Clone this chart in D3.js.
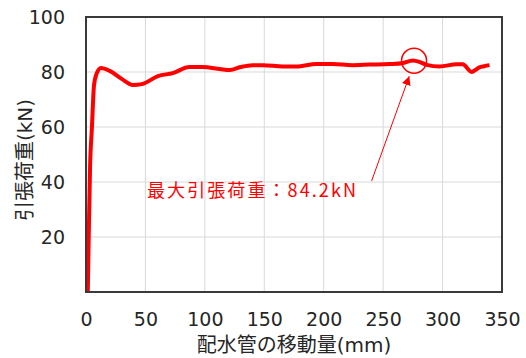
<!DOCTYPE html>
<html>
<head>
<meta charset="utf-8">
<script src="https://cdn.jsdelivr.net/npm/d3@7"></script>
<style>
  body { margin: 0; background: #fff; }
  svg { display: block; }
  text { font-family: "DejaVu Sans", "Noto Sans CJK JP", sans-serif; }
</style>
</head>
<body>
<div id="chart"></div>
<script>
// displacement of pipe (mm) and tensile load (kN)
var disp = [1.5, 2.5, 3.4, 5, 6.7, 9, 12.6, 20, 30, 39.5, 47, 60.5, 73, 87, 98, 112.6, 121, 130, 140, 149, 165.5, 177, 194, 207.5, 224, 238.6, 255.5, 266, 275, 281, 286.5, 297.5, 311.8, 317, 324.4, 328.6, 331, 335, 339.5];
var load = [0, 25, 45, 60, 75, 79.5, 81.5, 80.4, 77.5, 75.3, 75.6, 78.5, 79.6, 81.8, 81.8, 81.1, 80.7, 81.8, 82.5, 82.5, 82, 82, 82.9, 82.9, 82.5, 82.7, 82.9, 83.2, 84.2, 83.6, 82.6, 82, 82.8, 82.8, 80, 81, 81.7, 82.1, 82.5];

var xTicks = [0, 50, 100, 150, 200, 250, 300, 350];
var yTicks = [20, 40, 60, 80, 100];
var yGrid = [20, 40, 60, 80];

var maxLabel = "最大引張荷重：84.2kN";
var maxPoint = [276, 84.1];

var margin = { top: 17, right: 24, bottom: 66, left: 86 },
    width = 526 - margin.left - margin.right,
    height = 358 - margin.top - margin.bottom;

var x = d3.scaleLinear().domain([0, 350]).range([0, width]);
var y = d3.scaleLinear().domain([0, 100]).range([height, 0]);

var svg = d3.select("#chart").append("svg")
  .attr("width", 526)
  .attr("height", 358);

var g = svg.append("g")
  .attr("transform", "translate(" + margin.left + "," + margin.top + ")");

// grid
g.selectAll(".vgrid").data(xTicks.slice(1, -1)).enter().append("line")
  .attr("x1", function (d) { return x(d); })
  .attr("x2", function (d) { return x(d); })
  .attr("y1", 0).attr("y2", height)
  .attr("stroke", "#d9d9d9").attr("stroke-width", 1);

g.selectAll(".hgrid").data(yGrid).enter().append("line")
  .attr("x1", 0).attr("x2", width)
  .attr("y1", function (d) { return y(d); })
  .attr("y2", function (d) { return y(d); })
  .attr("stroke", "#d9d9d9").attr("stroke-width", 1);

// axes (labels only, frame drawn separately)
var xAxis = d3.axisBottom(x).tickValues(xTicks).tickSize(0).tickPadding(21);
var yAxis = d3.axisLeft(y).tickValues(yTicks).tickSize(0).tickPadding(21);

g.append("g").attr("class", "x-axis")
  .attr("transform", "translate(0," + height + ")")
  .call(xAxis)
  .call(function (s) { s.select(".domain").remove(); })
  .selectAll("text").attr("font-size", 19).attr("fill", "#262626")
  .attr("font-family", "DejaVu Sans");

g.append("g").attr("class", "y-axis")
  .call(yAxis)
  .call(function (s) { s.select(".domain").remove(); })
  .selectAll("text").attr("font-size", 19).attr("fill", "#262626")
  .attr("font-family", "DejaVu Sans");

// data line
var line = d3.line()
  .x(function (d, i) { return x(disp[i]); })
  .y(function (d) { return y(d); })
  .curve(d3.curveMonotoneX);

g.append("path")
  .datum(load)
  .attr("fill", "none")
  .attr("stroke", "#ff0000")
  .attr("stroke-width", 4)
  .attr("stroke-linejoin", "round")
  .attr("d", line);

// frame
g.append("rect")
  .attr("x", 0).attr("y", 0)
  .attr("width", width).attr("height", height)
  .attr("fill", "none")
  .attr("stroke", "#3a3a3a")
  .attr("stroke-width", 2);

// annotation
g.append("circle")
  .attr("cx", x(maxPoint[0])).attr("cy", y(maxPoint[1]))
  .attr("r", 12.5)
  .attr("fill", "none")
  .attr("stroke", "#ff0000")
  .attr("stroke-width", 1.5);

svg.append("defs").append("marker")
  .attr("id", "head")
  .attr("viewBox", "0 0 10 10")
  .attr("refX", 10).attr("refY", 5)
  .attr("markerWidth", 9).attr("markerHeight", 9)
  .attr("markerUnits", "userSpaceOnUse")
  .attr("orient", "auto")
  .append("path")
  .attr("d", "M0,0L10,5L0,10Z")
  .attr("fill", "#ff0000");

g.append("line")
  .attr("x1", x(240.3)).attr("y1", y(40.4))
  .attr("x2", x(272)).attr("y2", y(78.5))
  .attr("stroke", "#ff0000")
  .attr("stroke-width", 1)
  .attr("marker-end", "url(#head)");

g.append("text")
  .attr("x", x(51.3)).attr("y", y(34.5))
  .attr("fill", "#ff0000")
  .attr("font-size", 18)
  .attr("textLength", 209)
  .attr("lengthAdjust", "spacing")
  .style("font-family", "'Noto Sans CJK JP', sans-serif")
  .text(maxLabel);

// axis titles
svg.append("text")
  .attr("x", 294).attr("y", 352)
  .attr("text-anchor", "middle")
  .attr("font-size", 20)
  .attr("fill", "#262626")
  .text("配水管の移動量(mm)");

svg.append("text")
  .attr("transform", "translate(32,160) rotate(-90)")
  .attr("text-anchor", "middle")
  .attr("font-size", 20)
  .attr("fill", "#262626")
  .text("引張荷重(kN)");
</script>
</body>
</html>
